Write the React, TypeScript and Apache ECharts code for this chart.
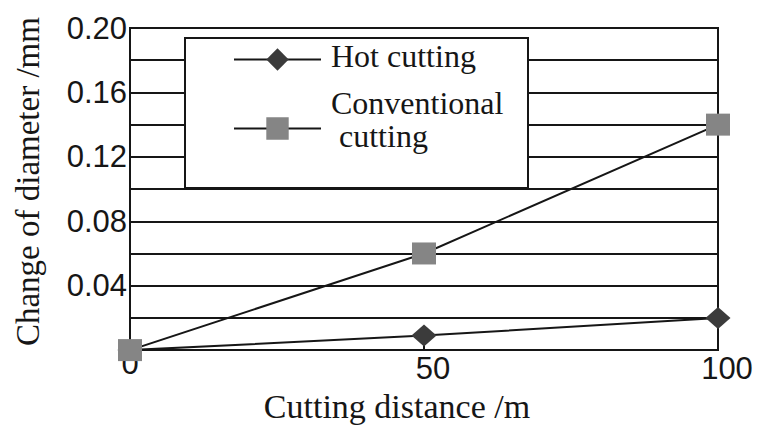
import React, { useEffect, useRef } from "react";
import * as echarts from "echarts";

// Cutting distance (m) on the x axis
const distances: number[] = [0, 50, 100];
// Change of diameter (mm) for each cutting method
const hotCutting: number[] = [0, 0.009, 0.02];
const conventionalCutting: number[] = [0, 0.06, 0.14];

const seriesNames: string[] = ["Hot cutting", "Conventional cutting"];
const xTitle = "Cutting distance /m";
const yTitle = "Change of diameter /mm";

const SANS = "'Liberation Sans', Arial, Helvetica, sans-serif";
const SERIF = "'Liberation Serif', 'Times New Roman', Times, serif";
const INK = "#161616";

export default function App() {
  const ref = useRef<HTMLDivElement>(null);

  useEffect(() => {
    if (!ref.current) return;
    const chart = echarts.init(ref.current, undefined, { renderer: "svg" });

    const pair = (xs: number[], ys: number[]) => xs.map((x, i) => [x, ys[i]]);

    chart.setOption({
      animation: false,
      backgroundColor: "#ffffff",
      grid: {
        left: 130,
        right: 39,
        top: 28,
        bottom: 76,
        show: true,
        borderColor: INK,
        borderWidth: 2,
        backgroundColor: "transparent",
      },
      xAxis: {
        type: "value",
        min: 0,
        max: 100,
        interval: 50,
        name: xTitle,
        nameLocation: "middle",
        nameGap: 37,
        nameTextStyle: {
          fontFamily: SERIF,
          fontSize: 34,
          color: INK,
          padding: [0, 54, 0, 0],
        },
        axisLine: { show: true, lineStyle: { color: INK, width: 2 } },
        axisTick: { show: true, inside: true, length: 7, lineStyle: { color: INK, width: 2 } },
        axisLabel: {
          fontFamily: SANS,
          fontSize: 31,
          color: INK,
          margin: 3,
          formatter: (v: number) => (v === 0 ? `{z|${v}}` : `{r|${v}}`),
          rich: {
            z: { fontFamily: SANS, fontSize: 31, color: INK, lineHeight: 20 },
            r: { fontFamily: SANS, fontSize: 31, color: INK, padding: [0, 0, 0, 18] },
          },
        },
        splitLine: { show: false },
      },
      yAxis: {
        type: "value",
        min: 0,
        max: 0.2,
        interval: 0.02,
        name: yTitle,
        nameLocation: "middle",
        nameGap: 86,
        nameTextStyle: { fontFamily: SERIF, fontSize: 33, color: INK, padding: [0, 0, 0, 15] },
        axisLine: { show: true, lineStyle: { color: INK, width: 2 } },
        axisTick: { show: false },
        axisLabel: {
          fontFamily: SANS,
          fontSize: 31,
          color: INK,
          margin: 3,
          formatter: (v: number, i: number) => (i > 0 && i % 2 === 0 ? v.toFixed(2) : ""),
        },
        splitLine: { show: true, lineStyle: { color: INK, width: 2 } },
      },
      legend: {
        orient: "vertical",
        left: 233,
        top: 39.5,
        z: 10,
        padding: 0,
        itemGap: 10,
        itemWidth: 87,
        itemHeight: 28,
        selectedMode: false,
        formatter: (name: string) =>
          name === seriesNames[1]
            ? "{a|Conventional}\n{a| cutting}\n{s| }"
            : `{a|${name}}\n{t| }`,
        textStyle: {
          fontFamily: SERIF,
          fontSize: 32,
          color: INK,
          rich: {
            a: { fontFamily: SERIF, fontSize: 32, lineHeight: 33, color: INK, padding: [0, 0, 0, 5] },
            s: { fontSize: 1, lineHeight: 19 },
            t: { fontSize: 1, lineHeight: 8 },
          },
        },
      },
      graphic: {
        elements: [
          {
            type: "rect",
            z: 3,
            shape: { x: 185, y: 38, width: 343, height: 150 },
            style: { fill: "#ffffff", stroke: INK, lineWidth: 2 },
          },
        ],
      },
      series: [
        {
          name: seriesNames[0],
          type: "line",
          data: pair(distances, hotCutting),
          symbol: "diamond",
          symbolSize: [25, 22],
          lineStyle: { color: INK, width: 2 },
          itemStyle: { color: "#3b3b3b" },
          z: 3,
        },
        {
          name: seriesNames[1],
          type: "line",
          data: pair(distances, conventionalCutting),
          symbol: "rect",
          symbolSize: [24, 22],
          lineStyle: { color: INK, width: 2 },
          itemStyle: { color: "#858585" },
          z: 4,
        },
      ],
    });

    return () => chart.dispose();
  }, []);

  return (
    <div
      ref={ref}
      style={{ position: "absolute", left: 0, top: 0, width: 757, height: 428, background: "#fff" }}
    />
  );
}
